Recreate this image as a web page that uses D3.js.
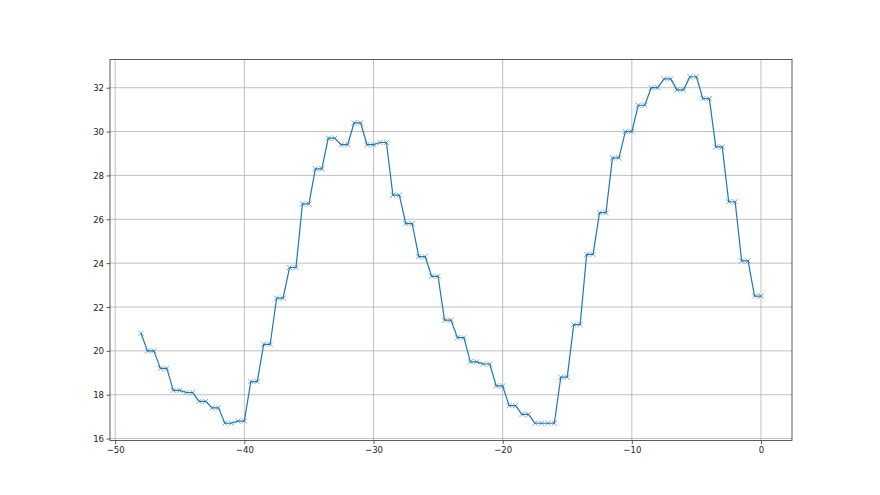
<!DOCTYPE html>
<html>
<head>
<meta charset="utf-8">
<script src="https://cdn.jsdelivr.net/npm/d3@7"></script>
<style>
  html, body { margin: 0; padding: 0; background: #fff; }
  svg text { font-family: "Liberation Sans Narrow", "DejaVu Sans Condensed", sans-serif; font-size: 9.5px; fill: #222; }
</style>
</head>
<body>
<svg id="chart" width="880" height="495"></svg>
<script>
// Data: x positions (half-unit steps) and values
const xValues = [-48,
  -47.5, -47, -46.5, -46, -45.5, -45, -44.5, -44, -43.5, -43,
  -42.5, -42, -41.5, -41, -40.5, -40, -39.5, -39, -38.5, -38,
  -37.5, -37, -36.5, -36, -35.5, -35, -34.5, -34, -33.5, -33,
  -32.5, -32, -31.5, -31, -30.5, -30, -29.5, -29, -28.5, -28,
  -27.5, -27, -26.5, -26, -25.5, -25, -24.5, -24, -23.5, -23,
  -22.5, -22, -21.5, -21, -20.5, -20, -19.5, -19, -18.5, -18,
  -17.5, -17, -16.5, -16, -15.5, -15, -14.5, -14, -13.5, -13,
  -12.5, -12, -11.5, -11, -10.5, -10, -9.5, -9, -8.5, -8,
  -7.5, -7, -6.5, -6, -5.5, -5, -4.5, -4, -3.5, -3,
  -2.5, -2, -1.5, -1, -0.5, 0];
const yValues = [20.8,
  20.0, 20.0, 19.2, 19.2, 18.2, 18.2, 18.1, 18.1, 17.7, 17.7,
  17.4, 17.4, 16.7, 16.7, 16.8, 16.8, 18.6, 18.6, 20.3, 20.3,
  22.4, 22.4, 23.8, 23.8, 26.7, 26.7, 28.3, 28.3, 29.7, 29.7,
  29.4, 29.4, 30.4, 30.4, 29.4, 29.4, 29.5, 29.5, 27.1, 27.1,
  25.8, 25.8, 24.3, 24.3, 23.4, 23.4, 21.4, 21.4, 20.6, 20.6,
  19.5, 19.5, 19.4, 19.4, 18.4, 18.4, 17.5, 17.5, 17.1, 17.1,
  16.7, 16.7, 16.7, 16.7, 18.8, 18.8, 21.2, 21.2, 24.4, 24.4,
  26.3, 26.3, 28.8, 28.8, 30.0, 30.0, 31.2, 31.2, 32.0, 32.0,
  32.4, 32.4, 31.9, 31.9, 32.5, 32.5, 31.5, 31.5, 29.3, 29.3,
  26.8, 26.8, 24.1, 24.1, 22.5, 22.5];
const xTicks = [-50, -40, -30, -20, -10, 0];
const yTicks = [16, 18, 20, 22, 24, 26, 28, 30, 32];

const data = xValues.map((x, i) => ({x, y: yValues[i]}));

const plotLeft = 110, plotRight = 792, plotTop = 59.4, plotBottom = 440.55;

const xMin = d3.min(xValues), xMax = d3.max(xValues);
const yMin = d3.min(yValues), yMax = d3.max(yValues);
const xPad = (xMax - xMin) * 0.05, yPad = (yMax - yMin) * 0.05;

const xScale = d3.scaleLinear().domain([xMin - xPad, xMax + xPad]).range([plotLeft, plotRight]);
const yScale = d3.scaleLinear().domain([yMin - yPad, yMax + yPad]).range([plotBottom, plotTop]);

const svg = d3.select("#chart");

// grid
const grid = svg.append("g");
grid.selectAll(".vg").data(xTicks).enter().append("line")
  .attr("x1", d => xScale(d)).attr("x2", d => xScale(d))
  .attr("y1", plotTop).attr("y2", plotBottom)
  .attr("stroke", "#b0b0b0").attr("stroke-width", 0.8);
grid.selectAll(".hg").data(yTicks).enter().append("line")
  .attr("y1", d => yScale(d)).attr("y2", d => yScale(d))
  .attr("x1", plotLeft).attr("x2", plotRight)
  .attr("stroke", "#b0b0b0").attr("stroke-width", 0.8);

// line
const line = d3.line().x(d => xScale(d.x)).y(d => yScale(d.y));
svg.append("path").datum(data)
  .attr("d", line)
  .attr("fill", "none")
  .attr("stroke", "#1f77b4")
  .attr("stroke-width", 1.2)
  .attr("stroke-linejoin", "round");

// markers
const m = 2.6;
const mk = svg.append("g");
mk.selectAll("path.mk").data(data).enter().append("path")
  .attr("d", d => {
    const cx = xScale(d.x), cy = yScale(d.y);
    return `M${cx - m},${cy - m}L${cx + m},${cy + m}M${cx - m},${cy + m}L${cx + m},${cy - m}`;
  })
  .attr("stroke", "#1f77b4")
  .attr("stroke-width", 0.8)
  .attr("stroke-opacity", 0.75)
  .attr("fill", "none");

// axes
const xAxis = d3.axisBottom(xScale).tickValues(xTicks).tickSize(3.5).tickPadding(2)
  .tickFormat(d => d3.format("d")(d).replace("-", "\u2212"));
const yAxis = d3.axisLeft(yScale).tickValues(yTicks).tickSize(3.5).tickPadding(2.5)
  .tickFormat(d3.format("d"));

const gx = svg.append("g").attr("transform", `translate(0,${plotBottom})`).call(xAxis);
const gy = svg.append("g").attr("transform", `translate(${plotLeft},0)`).call(yAxis);
[gx, gy].forEach(g => {
  g.select(".domain").remove();
  g.selectAll(".tick line").attr("stroke", "#333").attr("stroke-width", 0.8);
  g.selectAll(".tick text").attr("fill", "#222").style("font-size", "9.5px")
    .style("font-family", "'Liberation Sans Narrow', 'DejaVu Sans Condensed', sans-serif");
});

// spines
svg.append("rect")
  .attr("x", plotLeft).attr("y", plotTop)
  .attr("width", plotRight - plotLeft).attr("height", plotBottom - plotTop)
  .attr("fill", "none").attr("stroke", "#333").attr("stroke-width", 0.8);
</script>
</body>
</html>
